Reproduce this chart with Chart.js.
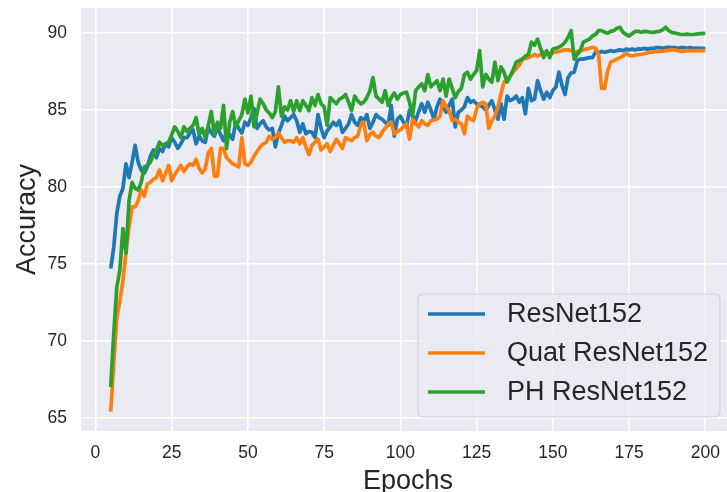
<!DOCTYPE html>
<html>
<head>
<meta charset="utf-8">
<script src="https://cdn.jsdelivr.net/npm/chart.js@4/dist/chart.umd.min.js"></script>
<style>
  html, body { margin: 0; padding: 0; background: #fff; overflow: hidden; }
  #wrap { width: 727px; height: 492px; overflow: hidden; position: relative; }
  canvas { display: block; }
</style>
</head>
<body>
<div id="wrap"><canvas id="c" width="735" height="500"></canvas></div>
<script>
// accuracy per epoch, epochs 5..200
const firstEpoch = 5

const resnet = [
  74.7, 76.1, 78.3, 79.4, 79.9, 81.5, 80.6, 81.6, 82.7, 81.6,
  81.1, 80.9, 81.3, 82.0, 82.4, 81.9, 82.5, 82.3, 82.8, 82.6,
  83.2, 82.9, 82.5, 82.8, 83.2, 83.2, 83.5, 83.7, 82.8, 83.3,
  83.0, 82.9, 83.9, 83.5, 83.3, 83.9, 83.4, 83.0, 83.6, 83.4,
  83.1, 84.2, 83.8, 83.5, 84.2, 84.0, 84.5, 85.1, 83.8, 84.1,
  84.3, 83.9, 83.7, 83.8, 82.6, 83.5, 84.0, 84.6, 84.3, 84.5,
  84.7, 84.3, 83.55, 84.1, 83.45, 83.6, 83.55, 83.2, 84.7, 83.8,
  83.2, 83.65, 83.9, 84.2, 84.0, 84.3, 83.55, 83.8, 84.1, 84.7,
  84.2, 84.0, 84.5, 84.3, 84.7, 83.8, 84.2, 84.7, 84.5, 84.4,
  84.2, 84.0, 85.3, 83.3, 84.4, 84.6, 84.2, 83.9, 85.0, 84.6,
  84.3, 84.9, 85.4, 84.85, 85.5, 85.0, 84.4, 85.2, 85.7, 85.2,
  84.85, 85.3, 85.7, 83.9, 84.85, 85.0, 85.2, 85.8, 85.5, 85.6,
  85.4, 85.3, 85.2, 85.0, 85.3, 85.6, 85.0, 84.4, 85.4, 84.4,
  85.9, 85.6, 85.7, 85.9, 85.5, 85.8, 84.75, 86.4, 85.6, 85.7,
  86.9, 86.25, 85.7, 86.15, 85.8, 86.25, 86.5, 87.45, 86.6, 86.0,
  87.1, 87.4, 87.45, 88.2, 88.3, 88.3, 88.35, 88.4, 88.4, 88.75,
  88.7, 88.8, 88.75, 88.8, 88.85, 88.8, 88.85, 88.9, 88.85, 88.95,
  88.9, 88.95, 88.9, 88.96, 88.95, 89.0, 88.95, 89.0, 89.0, 89.05,
  89.05, 89.0, 89.05, 89.07, 89.05, 89.05, 89.0, 89.05, 89.05, 89.0,
  89.05, 89.0, 89.02, 89.0, 89.0, 89.0
]

const quatResnet = [
  65.4, 68.5, 71.5, 72.6, 73.9, 75.7, 77.4, 78.7, 78.7, 79.1,
  79.8, 79.4, 80.2, 80.3, 80.5, 80.6, 81.1, 80.4, 80.9, 81.4,
  80.4, 80.8, 81.1, 81.4, 81.0, 81.3, 81.5, 81.4, 81.8, 81.2,
  80.9, 81.2, 82.2, 82.5, 80.7, 80.7, 82.5, 82.5, 81.9, 81.7,
  81.5, 81.4, 81.3, 83.2, 81.5, 81.4, 81.6, 82.0, 82.3, 82.6,
  82.8, 82.9, 83.3, 83.1, 83.2, 83.5, 83.2, 82.9, 83.0, 83.0,
  82.9, 83.2, 82.8, 83.2, 82.6, 82.1, 82.7, 82.9, 83.1, 82.4,
  82.6, 82.8, 82.3, 82.7, 83.1, 82.8, 82.5, 83.2, 83.1, 83.0,
  83.2, 83.3, 84.0, 84.2, 83.0, 83.4, 83.55, 83.3, 83.2, 83.55,
  83.8, 84.1, 84.2, 83.45, 83.6, 83.7, 83.9, 84.1, 83.1, 84.4,
  84.1, 83.9, 84.3, 84.1, 84.0, 84.3, 84.35, 84.4, 84.6, 85.6,
  85.2, 84.96, 84.3, 84.4, 84.2, 84.1, 83.45, 84.6, 84.4, 84.3,
  85.05, 85.4, 85.5, 85.4, 83.8, 84.3, 84.6, 85.2, 86.05, 86.8,
  87.0, 87.2, 87.45, 87.7, 87.9, 88.3, 88.35, 88.4, 88.5, 88.6,
  88.5, 88.6, 88.75, 88.7, 88.6, 88.7, 88.75, 88.8, 88.85, 88.9,
  88.9, 88.85, 88.75, 88.8, 88.85, 88.9, 88.96, 89.0, 89.07, 89.0,
  88.6, 86.4, 86.4, 87.55, 88.1, 88.2, 88.3, 88.4, 88.5, 88.68,
  88.55, 88.5, 88.55, 88.6, 88.6, 88.65, 88.7, 88.75, 88.75, 88.8,
  88.8, 88.82, 88.85, 88.88, 88.9, 88.9, 88.85, 88.8, 88.82, 88.85,
  88.85, 88.85, 88.85, 88.85, 88.85, 88.85
]

const phResnet = [
  67.0, 70.5, 73.5, 74.6, 77.3, 75.7, 79.1, 80.3, 79.9, 79.8,
  80.3, 81.3, 81.4, 81.6, 82.1, 82.4, 82.9, 82.7, 82.8, 82.9,
  83.4, 83.9, 83.6, 83.2, 83.9, 83.6, 83.8, 84.0, 84.5, 83.4,
  83.8, 83.2, 84.0, 84.9, 83.4, 84.2, 83.8, 85.3, 82.5, 84.2,
  84.9, 83.9, 84.3, 84.7, 85.7, 84.8, 85.9, 83.9, 84.8, 85.7,
  85.4, 85.0, 84.8, 84.5, 84.9, 86.5, 84.6, 85.2, 85.0, 85.6,
  84.9, 85.6, 84.95, 85.6, 85.3, 84.95, 85.8, 85.3, 86.0, 85.4,
  85.2, 84.0, 85.8, 85.6, 85.4, 85.7, 85.8, 86.0, 85.5, 84.95,
  85.9, 85.6, 85.4, 85.5, 85.8, 86.25, 87.1, 85.9, 85.7, 85.5,
  86.25, 85.3, 85.8, 86.1, 85.7, 86.0, 86.1, 86.15, 85.5, 84.6,
  86.25, 86.5, 86.7, 86.25, 87.3, 86.5, 86.7, 86.9, 86.25, 87.0,
  85.9, 87.0, 86.4, 85.8, 86.2, 86.4, 87.3, 87.45, 87.0, 87.3,
  87.55, 88.85, 86.5, 87.3, 87.0, 86.8, 88.1, 86.9, 87.8, 87.45,
  86.8, 87.2, 87.6, 88.1, 88.2, 88.3, 88.5, 88.6, 89.4, 89.2,
  89.6, 89.0, 88.4, 88.85, 88.4, 88.96, 89.0, 89.07, 89.2, 89.4,
  89.7, 90.15, 88.3, 88.6, 88.85, 89.4, 89.5, 89.6, 89.8, 89.9,
  90.15, 90.15, 90.05, 89.98, 90.1, 90.15, 90.3, 90.37, 90.04, 89.9,
  89.8, 89.95, 90.1, 90.1, 90.05, 90.1, 90.08, 90.05, 90.04, 90.08,
  90.1, 90.2, 90.37, 90.15, 90.04, 90.0, 89.95, 89.9, 89.9, 89.92,
  89.9, 89.9, 89.92, 89.95, 89.96, 89.98
]

const xTicks = [0, 25, 50, 75, 100, 125, 150, 175, 200]
const yTicks = [65, 70, 75, 80, 85, 90]

const SERIES = [
  { label: 'ResNet152',      data: resnet,     color: '#1f77b4' },
  { label: 'Quat ResNet152', data: quatResnet, color: '#ff7f0e' },
  { label: 'PH ResNet152',   data: phResnet,   color: '#2ca02c' },
]

const FONT = "'Liberation Sans', Arial, sans-serif"
const TEXT = '#262626'

const toPoints = arr => arr.map((y, i) => ({ x: firstEpoch + i, y }))

// seaborn darkgrid face
const plotBg = {
  id: 'plotBg',
  beforeDraw(chart) {
    const { ctx, chartArea: a } = chart
    ctx.save()
    ctx.fillStyle = '#eaeaf2'
    ctx.fillRect(a.left, a.top, a.right - a.left, a.bottom - a.top)
    ctx.restore()
  },
}

// matplotlib style legend, lower right inside the axes
const boxLegend = {
  id: 'boxLegend',
  afterDraw(chart) {
    const { ctx } = chart
    const x = 418, y = 294, w = 302, h = 123
    ctx.save()
    ctx.beginPath()
    ctx.roundRect(x, y, w, h, 5)
    ctx.fillStyle = 'rgba(234,234,242,0.8)'
    ctx.fill()
    ctx.strokeStyle = 'rgba(204,204,204,0.8)'
    ctx.lineWidth = 1.2
    ctx.stroke()
    ctx.font = `27px ${FONT}`
    ctx.textBaseline = 'middle'
    chart.data.datasets.forEach((ds, i) => {
      const ry = 314 + i * 39
      ctx.beginPath()
      ctx.moveTo(428, ry)
      ctx.lineTo(485, ry)
      ctx.strokeStyle = ds.borderColor
      ctx.lineWidth = 3.5
      ctx.stroke()
      ctx.fillStyle = TEXT
      ctx.fillText(ds.label, 507, ry + 1)
    })
    ctx.restore()
  },
}

new Chart(document.getElementById('c'), {
  type: 'line',
  data: {
    datasets: SERIES.map((s, i) => ({
      label: s.label,
      data: toPoints(s.data),
      borderColor: s.color,
      backgroundColor: s.color,
      borderWidth: 3.7,
      borderJoinStyle: 'round',
      pointRadius: 0,
      tension: 0,
      order: SERIES.length - i,
    })),
  },
  options: {
    responsive: false,
    animation: false,
    devicePixelRatio: 1,
    layout: { padding: { top: 8, right: 0, bottom: 0, left: 0 } },
    plugins: { legend: { display: false }, tooltip: { enabled: false } },
    scales: {
      x: {
        type: 'linear',
        min: -4.75, max: 209.75,
        afterBuildTicks: s => { s.ticks = xTicks.map(v => ({ value: v })) },
        afterFit: s => { s.height = 69; s.paddingLeft = 0; s.paddingRight = 0 },
        grid: { color: '#ffffff', lineWidth: 1.6, drawTicks: false },
        border: { display: false },
        ticks: { color: TEXT, font: { family: FONT, size: 17.5 }, padding: 12, maxRotation: 0 },
        title: { display: true, text: 'Epochs', color: TEXT, font: { family: FONT, size: 27 }, padding: { top: 0, bottom: 2 } },
      },
      y: {
        min: 64.15, max: 91.62,
        afterBuildTicks: s => { s.ticks = yTicks.map(v => ({ value: v })) },
        afterFit: s => { s.width = 81; s.paddingTop = 0; s.paddingBottom = 0 },
        grid: { color: '#ffffff', lineWidth: 1.6, drawTicks: false },
        border: { display: false },
        ticks: { color: TEXT, font: { family: FONT, size: 17.5 }, padding: 14 },
        title: { display: true, text: 'Accuracy', color: TEXT, font: { family: FONT, size: 27 }, padding: { top: 11, bottom: 0 } },
      },
    },
  },
  plugins: [plotBg, boxLegend],
})
</script>
</body>
</html>
